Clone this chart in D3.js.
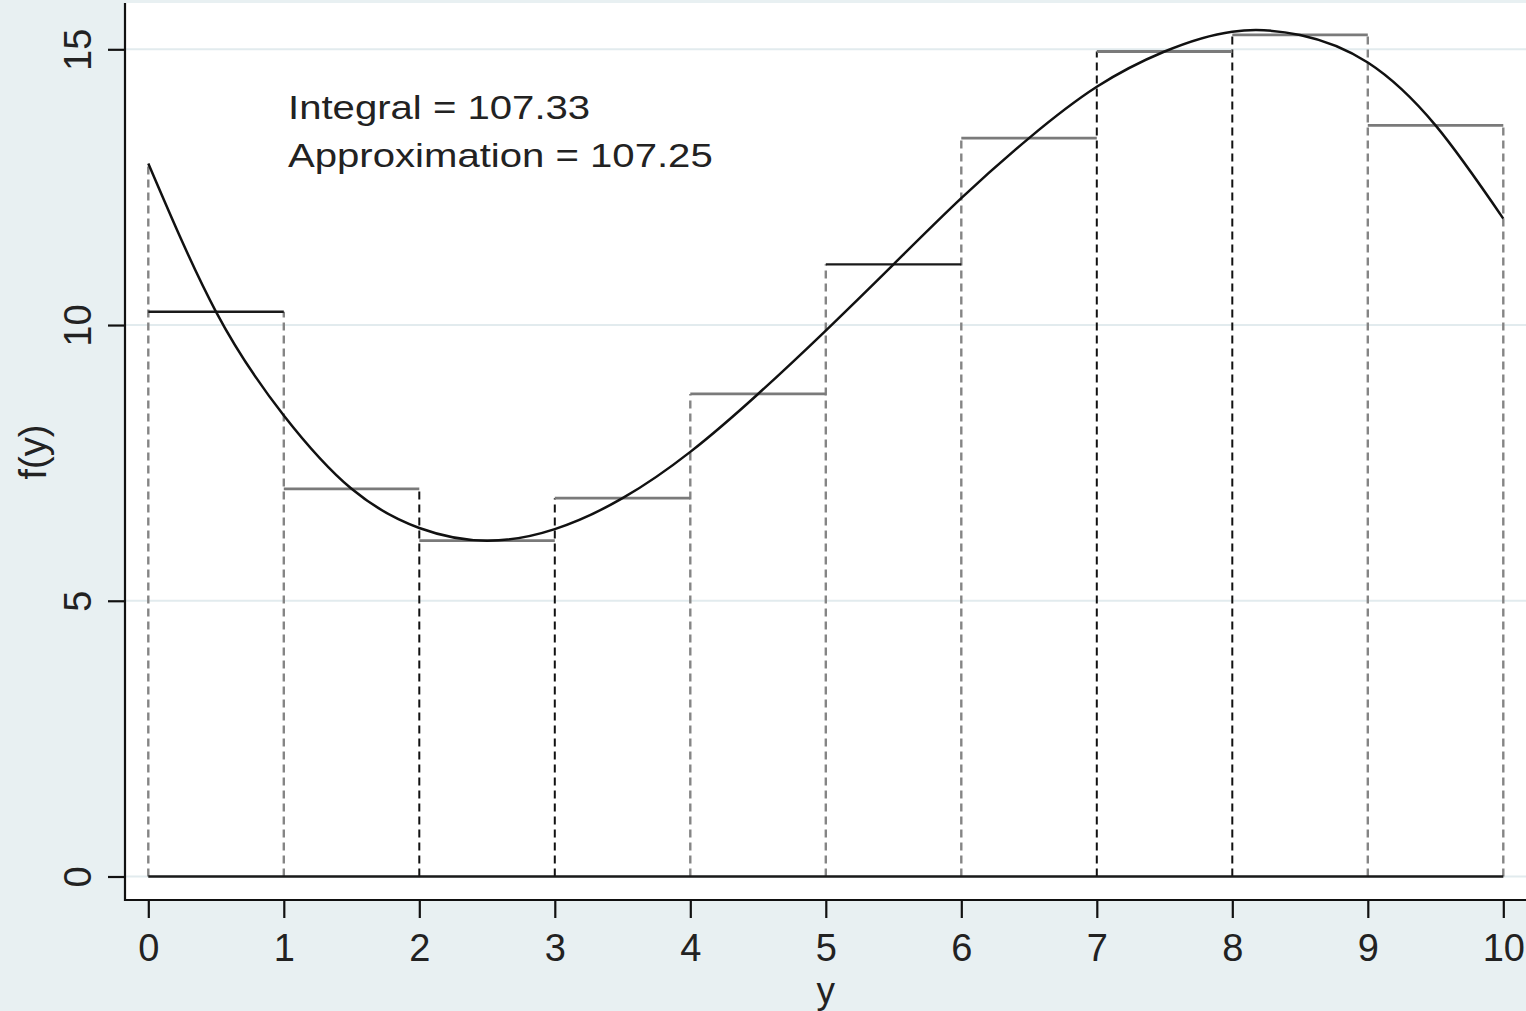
<!DOCTYPE html>
<html><head><meta charset="utf-8">
<script src="https://cdn.jsdelivr.net/npm/d3@7"></script>
<style>html,body{margin:0;padding:0;background:#e8f0f2;} svg{display:block}</style>
</head><body><svg id="c" width="1526" height="1011"></svg>
<script>
// ---- data ----
const xTicks = [0, 1, 2, 3, 4, 5, 6, 7, 8, 9, 10];
const yTicks = [0, 5, 10, 15];
const curveX = [0, 0.5, 1, 1.5, 2, 2.5, 3, 3.5, 4, 4.5, 5, 5.5, 6, 6.5, 7, 7.5, 8, 8.5, 9, 9.5, 10];
const curveY = [12.93, 10.24, 8.36, 7.03, 6.32, 6.09, 6.30, 6.86, 7.70, 8.75, 9.90, 11.10, 12.30, 13.39, 14.32, 14.96, 15.32, 15.26, 14.76, 13.62, 11.93];
const binStarts = [0, 1, 2, 3, 4, 5, 6, 7, 8, 9];
const binHeights = [10.24, 7.03, 6.09, 6.86, 8.75, 11.10, 13.39, 14.96, 15.26, 13.62];
const annotationLines = ["Integral = 107.33", "Approximation = 107.25"];
const xTitle = "y";
const yTitle = "f(y)";

// ---- styling (not data) ----
const FONT = "'Liberation Sans', Arial, Helvetica, sans-serif";
const darkEdges = new Set([2, 3, 7, 8]);   // edges that look crisp/black in the original
const darkTops = new Set([0, 5]);

const W = 1526, H = 1011;
const svg = d3.select('#c');
const x = d3.scaleLinear().domain([0, 10]).range([148.3, 1503.3]);
const y = d3.scaleLinear().domain([0, 15]).range([876.5, 49.3]);

svg.append('rect').attr('width', W).attr('height', H).attr('fill', '#e8f0f2');
svg.append('rect').attr('x', 125).attr('y', 3).attr('width', W - 125).attr('height', 897).attr('fill', '#ffffff');

// gridlines
svg.append('g').selectAll('line').data(yTicks).join('line')
  .attr('x1', 125).attr('x2', W)
  .attr('y1', d => y(d)).attr('y2', d => y(d))
  .attr('stroke', '#e2ebee').attr('stroke-width', 2);

// helpers
const curveAt = v => curveY[curveX.indexOf(v)];
const edgeTop = k => {
  const vals = [curveAt(k)];
  if (k - 1 >= 0) vals.push(binHeights[k - 1]);
  if (k < binHeights.length) vals.push(binHeights[k]);
  return d3.max(vals);
};

// dashed vertical edges
svg.append('g').selectAll('line').data(xTicks).join('line')
  .attr('x1', d => x(d)).attr('x2', d => x(d))
  .attr('y1', y(0)).attr('y2', d => y(edgeTop(d)))
  .attr('stroke', d => darkEdges.has(d) ? '#111' : '#858585')
  .attr('stroke-width', d => darkEdges.has(d) ? 2 : 2.4)
  .attr('stroke-dasharray', '8,5');

// baseline
svg.append('line')
  .attr('x1', x(0)).attr('x2', x(10)).attr('y1', y(0)).attr('y2', y(0))
  .attr('stroke', '#1a1a1a').attr('stroke-width', 2.4);

// bar tops
svg.append('g').selectAll('line').data(binStarts).join('line')
  .attr('x1', d => x(d)).attr('x2', d => x(d + 1))
  .attr('y1', (d, i) => y(binHeights[i])).attr('y2', (d, i) => y(binHeights[i]))
  .attr('stroke', (d, i) => darkTops.has(i) ? '#1a1a1a' : '#7a7a7a')
  .attr('stroke-width', (d, i) => darkTops.has(i) ? 2.4 : 2.8);

// curve
const pts = curveX.map((v, i) => [v, curveY[i]]);
svg.append('path').datum(pts)
  .attr('d', d3.line().x(d => x(d[0])).y(d => y(d[1])).curve(d3.curveNatural))
  .attr('fill', 'none').attr('stroke', '#111').attr('stroke-width', 2.5);

// axes
const yAxis = svg.append('g').attr('transform', 'translate(125,0)')
  .call(d3.axisLeft(y).tickValues(yTicks).tickSize(17).tickSizeOuter(0).tickFormat(d3.format('d')));
yAxis.select('.domain').remove();
yAxis.selectAll('.tick line').attr('stroke', '#111').attr('stroke-width', 2.2);
yAxis.selectAll('.tick text')
  .attr('x', null).attr('dy', null)
  .attr('text-anchor', 'middle')
  .attr('transform', 'translate(-34,0) rotate(-90)')
  .style('font-family', FONT).style('font-size', '38px').attr('fill', '#222');

const xAxis = svg.append('g').attr('transform', 'translate(0,900)')
  .call(d3.axisBottom(x).tickValues(xTicks).tickSize(18).tickSizeOuter(0).tickFormat(d3.format('d')));
xAxis.select('.domain').remove();
xAxis.selectAll('.tick line').attr('stroke', '#111').attr('stroke-width', 2.2);
xAxis.selectAll('.tick text')
  .attr('y', 61).attr('dy', null)
  .style('font-family', FONT).style('font-size', '38px').attr('fill', '#222');

// axis lines
svg.append('line').attr('x1', 125).attr('x2', 125).attr('y1', 3).attr('y2', 901)
  .attr('stroke', '#111').attr('stroke-width', 2.2);
svg.append('line').attr('x1', 124).attr('x2', W).attr('y1', 900).attr('y2', 900)
  .attr('stroke', '#111').attr('stroke-width', 2.2);

// titles
svg.append('text').text(xTitle)
  .attr('x', (x(0) + x(10)) / 2).attr('y', 1003).attr('text-anchor', 'middle')
  .style('font-family', FONT).style('font-size', '37px').attr('fill', '#222');
svg.append('text').text(yTitle)
  .attr('transform', 'translate(46,452) rotate(-90)').attr('text-anchor', 'middle')
  .style('font-family', FONT).style('font-size', '38px').attr('fill', '#222');

// annotation
svg.append('g').selectAll('text').data(annotationLines).join('text')
  .text(d => d)
  .attr('transform', (d, i) => `translate(288,${119 + i * 48}) scale(1.18,1)`)
  .style('font-family', FONT).style('font-size', '34px').attr('fill', '#222');
</script>
</body></html>
